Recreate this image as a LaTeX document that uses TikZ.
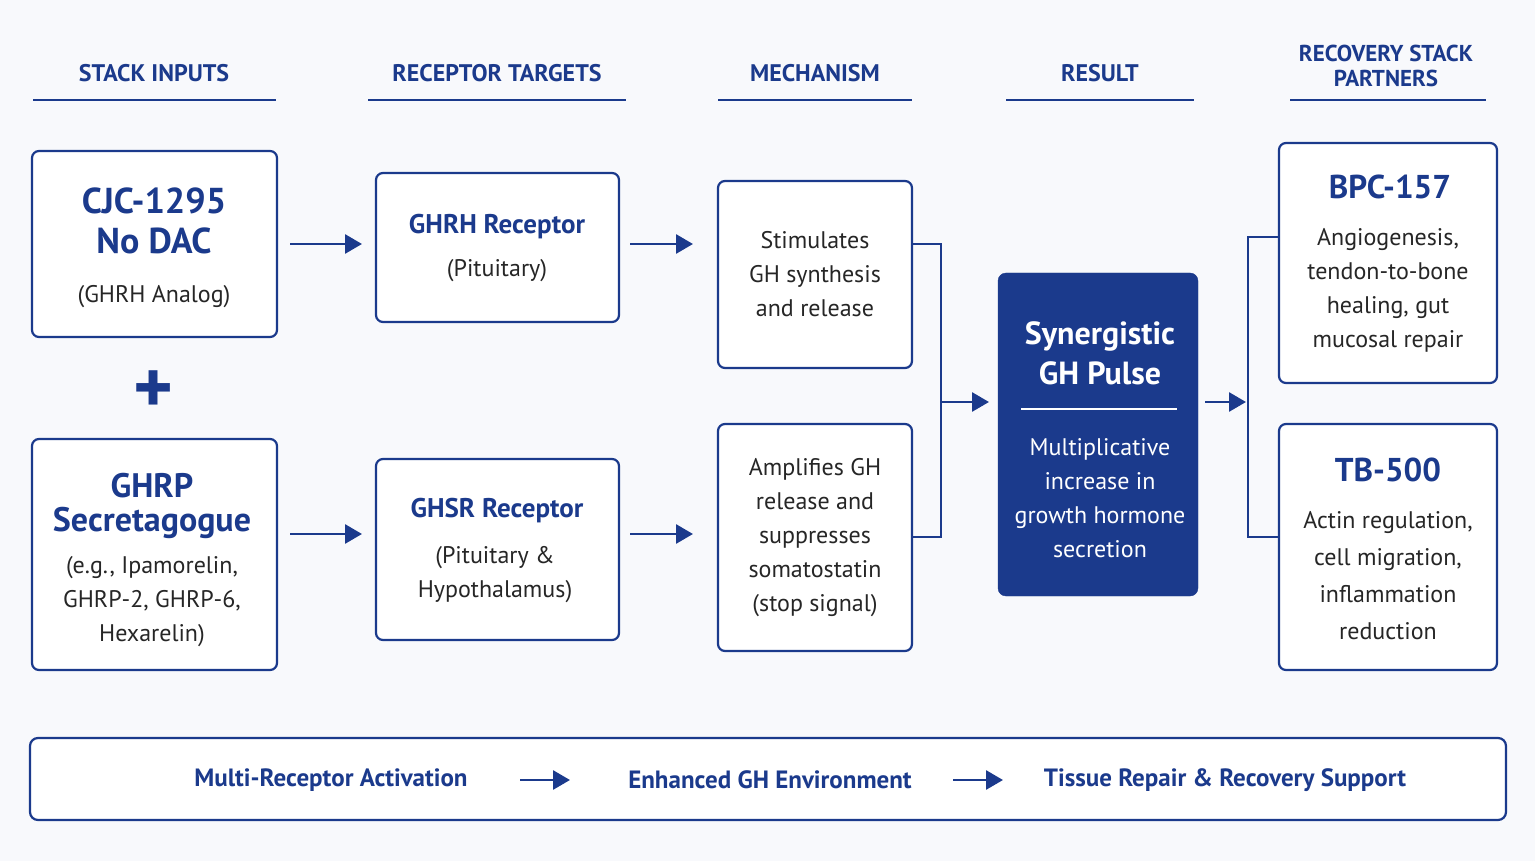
\documentclass[tikz,border=0pt]{standalone}
\usepackage{fontspec}
\setmainfont{PT Sans}
\usetikzlibrary{arrows.meta}
\definecolor{navy}{HTML}{1B3A8C}
\definecolor{bg}{HTML}{F8F9FC}
\begin{document}
\begin{tikzpicture}[x=1pt,y=-1pt,
 box/.style={draw=navy,line width=2.2pt,rounded corners=7pt,fill=white,text=black!85,align=center,inner sep=0pt},
 hdr/.style={text=navy,font=\bfseries\fontsize{24}{26}\selectfont,align=center},
 ul/.style={draw=navy,line width=2.2pt},
 arr/.style={draw=navy,line width=2.8pt,-{Triangle[length=17pt,width=19pt]}},
 ln/.style={draw=navy,line width=2.2pt},
 body/.style={font=\fontsize{24}{34}\selectfont},
 ttl/.style={font=\bfseries\fontsize{36}{44}\selectfont,text=navy}]
\useasboundingbox (0,0) rectangle (1535,861);
\fill[bg] (0,0) rectangle (1535,861);
% headers
\node[hdr] (h1) at (154,73) {STACK INPUTS};
\draw[ul] (33,100) -- (276,100);
\node[hdr] (h2) at (497,73) {RECEPTOR TARGETS};
\draw[ul] (368,100) -- (626,100);
\node[hdr] (h3) at (815,73) {MECHANISM};
\draw[ul] (718,100) -- (912,100);
\node[hdr] (h4) at (1100,73) {RESULT};
\draw[ul] (1006,100) -- (1194,100);
\node[hdr,font=\bfseries\fontsize{23}{25}\selectfont] (h5) at (1386,66) {RECOVERY STACK\\PARTNERS};
\draw[ul] (1290,100) -- (1486,100);
% column 1
\node[box,minimum width=245pt,minimum height=186pt] (cjc) at (154.5,244) {};
\node[ttl,align=center] at (154,221) {CJC-1295\\[-4pt]No DAC};
\node[body,text=black!85] at (154,297) {(GHRH Analog)};
\node[text=navy,font=\bfseries\fontsize{76}{76}\selectfont] (plus) at (154,392) {+};
\node[box,minimum width=245pt,minimum height=231pt] (ghrp) at (154.5,554.5) {};
\node[ttl,align=center,font=\bfseries\fontsize{34}{42}\selectfont] at (152,506) {GHRP\\[-8pt]Secretagogue};
\node[body,align=center,text=black!85] at (152,602) {(e.g., Ipamorelin,\\GHRP-2, GHRP-6,\\Hexarelin)};
% column 2
\node[box,minimum width=243pt,minimum height=149pt] (ghrh) at (497.5,247.5) {};
\node[text=navy,font=\bfseries\fontsize{27}{30}\selectfont] at (497,227) {GHRH Receptor};
\node[body,text=black!85] at (497,271) {(Pituitary)};
\node[box,minimum width=243pt,minimum height=181pt] (ghsr) at (497.5,549.5) {};
\node[text=navy,font=\bfseries\fontsize{27}{30}\selectfont] at (497,511) {GHSR Receptor};
\node[body,align=center,text=black!85] at (495,575) {(Pituitary \&\\Hypothalamus)};
% column 3
\node[box,body,minimum width=194pt,minimum height=187pt] (stim) at (815,274.5) {Stimulates\\GH synthesis\\and release};
\node[box,body,minimum width=194pt,minimum height=227pt] (ampl) at (815,537.5) {Amplifies GH\\release and\\suppresses\\somatostatin\\(stop signal)};
% result
\node[draw=navy,fill=navy,rounded corners=8pt,minimum width=200pt,minimum height=323pt] (syn) at (1098,434.5) {};
\node[text=white,font=\bfseries\fontsize{32}{40}\selectfont,align=center] at (1100,353) {Synergistic\\GH Pulse};
\draw[white,line width=1.5pt] (1021,409) -- (1177,409);
\node[text=white,body,align=center] at (1100,498) {Multiplicative\\increase in\\growth hormone\\secretion};
% partners
\node[box,minimum width=218pt,minimum height=240pt] (bpc) at (1388,263) {};
\node[ttl,font=\bfseries\fontsize{33}{40}\selectfont] at (1390,187) {BPC-157};
\node[body,align=center,text=black!85] at (1388,290) {Angiogenesis,\\tendon-to-bone\\healing, gut\\mucosal repair};
\node[box,minimum width=218pt,minimum height=246pt] (tb) at (1388,547) {};
\node[ttl,font=\bfseries\fontsize{33}{40}\selectfont] at (1388,470) {TB-500};
\node[body,align=center,text=black!85,font=\fontsize{24}{37}\selectfont] at (1388,576) {Actin regulation,\\cell migration,\\inflammation\\reduction};
% arrows
\coordinate (a1) at (290,244); \coordinate (a1e) at (362,244);
\draw[arr] (a1) -- (a1e);
\coordinate (a2) at (630,244); \coordinate (a2e) at (693,244);
\draw[arr] (a2) -- (a2e);
\coordinate (a3) at (290,534); \coordinate (a3e) at (362,534);
\draw[arr] (a3) -- (a3e);
\coordinate (a4) at (630,534); \coordinate (a4e) at (693,534);
\draw[arr] (a4) -- (a4e);
\draw[ln] (stim.east |- 0,244) -| (941,537) -- (ampl.east |- 0,537);
\coordinate (m1) at (941,402);
\draw[arr] (m1) -- (989,402);
\coordinate (r1) at (1205,402); \coordinate (r1e) at (1246,402);
\draw[arr] (r1) -- (r1e);
\draw[ln] (bpc.west |- 0,237) -| (1248,537) -- (tb.west |- 0,537);
% bottom
\node[draw=navy,line width=2.2pt,rounded corners=8pt,fill=white,minimum width=1476pt,minimum height=82pt] (bot) at (768,779) {};
\node[text=navy,font=\bfseries\fontsize{25}{28}\selectfont] (b1) at (331,780) {Multi-Receptor Activation};
\node[text=navy,font=\bfseries\fontsize{25}{28}\selectfont] (b2) at (770,780) {Enhanced GH Environment};
\node[text=navy,font=\bfseries\fontsize{25}{28}\selectfont] (b3) at (1225,780) {Tissue Repair \& Recovery Support};
\coordinate (c1) at (520,780); \coordinate (c1e) at (570,780);
\draw[arr] (c1) -- (c1e);
\coordinate (c2) at (953,780); \coordinate (c2e) at (1003,780);
\draw[arr] (c2) -- (c2e);
\end{tikzpicture}
\end{document}
